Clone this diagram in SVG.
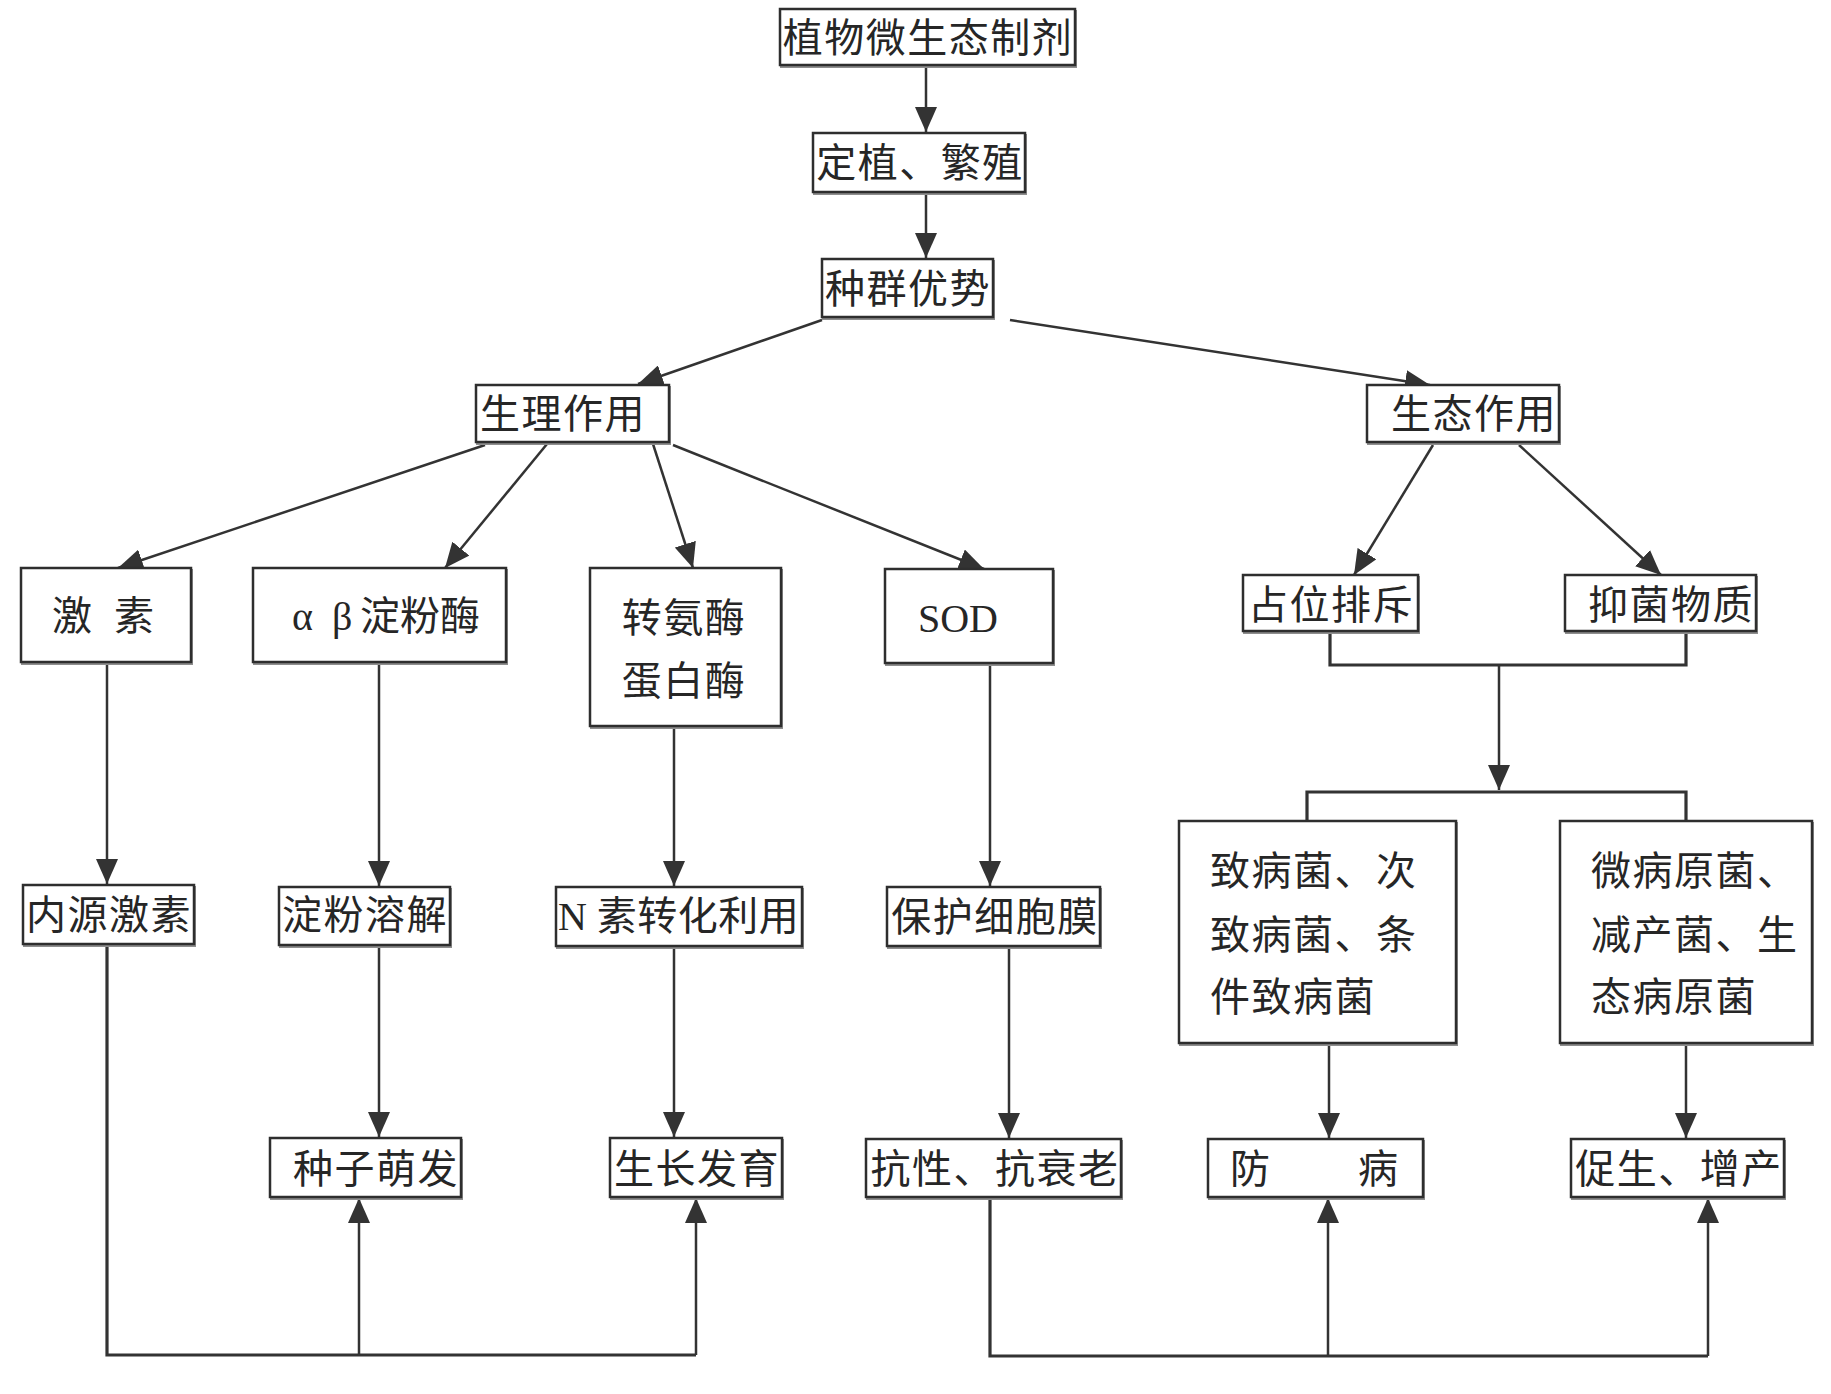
<svg xmlns="http://www.w3.org/2000/svg" width="1831" height="1394" viewBox="0 0 1831 1394">
<style>
.bg{fill:#ffffff}
.sh{fill:none;stroke:#8e8e8e;stroke-width:2}
.bx{fill:#ffffff;stroke:#2e2e2e;stroke-width:2.5}
.t{font-family:"Noto Sans CJK SC","Noto Sans CJK JP",sans-serif;font-size:40px;fill:#262626;letter-spacing:1.5px}
.m{text-anchor:middle}
.ser{font-family:"Liberation Serif",serif}
.ln{fill:none;stroke:#333333;stroke-width:2.5}
.lnb{fill:none;stroke:#333333;stroke-width:3.2}
.ar{marker-end:url(#ah)}
</style>
<defs>
<marker id="ah" viewBox="0 0 25 22" refX="25" refY="11" markerWidth="25" markerHeight="22" markerUnits="userSpaceOnUse" orient="auto">
<path d="M0,0 L25,11 L0,22 z" fill="#333333"/>
</marker>
</defs>
<rect class="bg" x="0" y="0" width="1831" height="1394"/>

<g id="connectors">
<path class="ln ar" d="M926,65 V132"/>
<path class="ln ar" d="M926,192 V258"/>
<path class="ln ar" d="M822,320 L638,384"/>
<path class="ln ar" d="M1010,320 L1430,385"/>
<path class="ln ar" d="M485,445 L118,568"/>
<path class="ln ar" d="M547,444 L445,568"/>
<path class="ln ar" d="M653,444 L693,568"/>
<path class="ln ar" d="M673,445 L984,569"/>
<path class="ln ar" d="M1433,445 L1354,575"/>
<path class="ln ar" d="M1519,445 L1661,575"/>
<path class="lnb" d="M1330,631 V665 H1686 V631"/>
<path class="ln ar" d="M1499,665 V790"/>
<path class="lnb" d="M1307,821 V792 H1686 V821"/>
<path class="ln ar" d="M107,662 V884"/>
<path class="ln ar" d="M379,662 V886"/>
<path class="ln ar" d="M674,726 V886"/>
<path class="ln ar" d="M990,663 V886"/>
<path class="ln ar" d="M379,945 V1137"/>
<path class="ln ar" d="M674,946 V1137"/>
<path class="ln ar" d="M1009,946 V1138"/>
<path class="ln ar" d="M1329,1043 V1138"/>
<path class="ln ar" d="M1686,1043 V1138"/>
<path class="lnb" d="M107,944 V1355 H696"/>
<path class="ln ar" d="M359,1355 V1198"/>
<path class="ln ar" d="M696,1355 V1198"/>
<path class="lnb" d="M990,1197 V1356 H1708"/>
<path class="ln ar" d="M1328,1356 V1198"/>
<path class="ln ar" d="M1708,1356 V1198"/>
</g>

<g id="n1"><rect class="sh" x="781" y="11" width="295" height="56"/><rect class="bx" x="780" y="9" width="295" height="56"/><text class="t m" x="928" y="52">植物微生态制剂</text></g>
<g id="n2"><rect class="sh" x="814" y="135" width="212" height="59"/><rect class="bx" x="813" y="133" width="212" height="59"/><text class="t m" x="920" y="177">定植、繁殖</text></g>
<g id="n3"><rect class="sh" x="823" y="261" width="171" height="58"/><rect class="bx" x="822" y="259" width="171" height="58"/><text class="t m" x="908" y="303">种群优势</text></g>
<g id="n4"><rect class="sh" x="477" y="387" width="193" height="57"/><rect class="bx" x="476" y="385" width="193" height="57"/><text class="t m" x="563" y="428">生理作用</text></g>
<g id="n5"><rect class="sh" x="1368" y="387" width="192" height="57"/><rect class="bx" x="1367" y="385" width="192" height="57"/><text class="t m" x="1474" y="428">生态作用</text></g>
<g id="n6"><rect class="sh" x="22" y="570" width="170" height="94"/><rect class="bx" x="21" y="568" width="170" height="94"/><text class="t" x="52" y="630" style="word-spacing:10px">激 素</text></g>
<g id="n7"><rect class="sh" x="254" y="570" width="253" height="94"/><rect class="bx" x="253" y="568" width="253" height="94"/><text class="t" x="292" y="630"><tspan class="ser">α </tspan><tspan class="ser" x="332">β</tspan><tspan x="360" style="letter-spacing:0">淀粉酶</tspan></text></g>
<g id="n8"><rect class="sh" x="591" y="570" width="191" height="158"/><rect class="bx" x="590" y="568" width="191" height="158"/><text class="t m" x="684" y="632">转氨酶</text><text class="t m" x="684" y="695">蛋白酶</text></g>
<g id="n9"><rect class="sh" x="886" y="571" width="168" height="94"/><rect class="bx" x="885" y="569" width="168" height="94"/><text class="t m ser" x="958" y="632" style="letter-spacing:0">SOD</text></g>
<g id="n10"><rect class="sh" x="1244" y="577" width="175" height="56"/><rect class="bx" x="1243" y="575" width="175" height="56"/><text class="t m" x="1331" y="619">占位排斥</text></g>
<g id="n11"><rect class="sh" x="1566" y="577" width="191" height="56"/><rect class="bx" x="1565" y="575" width="191" height="56"/><text class="t m" x="1671" y="619">抑菌物质</text></g>
<g id="n12"><rect class="sh" x="24" y="887" width="171" height="59"/><rect class="bx" x="23" y="885" width="171" height="59"/><text class="t m" x="109" y="929">内源激素</text></g>
<g id="n13"><rect class="sh" x="280" y="889" width="171" height="58"/><rect class="bx" x="279" y="887" width="171" height="58"/><text class="t m" x="365" y="929">淀粉溶解</text></g>
<g id="n14"><rect class="sh" x="557" y="889" width="246" height="59"/><rect class="bx" x="556" y="887" width="246" height="59"/><text class="t" x="558" y="930" style="letter-spacing:0.5px"><tspan class="ser">N</tspan> 素转化利用</text></g>
<g id="n15"><rect class="sh" x="888" y="889" width="213" height="59"/><rect class="bx" x="887" y="887" width="213" height="59"/><text class="t m" x="995" y="931">保护细胞膜</text></g>
<g id="n16"><rect class="sh" x="1180" y="823" width="277" height="222"/><rect class="bx" x="1179" y="821" width="277" height="222"/><text class="t" x="1210" y="885">致病菌、次</text><text class="t" x="1210" y="949">致病菌、条</text><text class="t" x="1210" y="1011">件致病菌</text></g>
<g id="n17"><rect class="sh" x="1561" y="823" width="252" height="222"/><rect class="bx" x="1560" y="821" width="252" height="222"/><text class="t" x="1591" y="885">微病原菌、</text><text class="t" x="1591" y="949">减产菌、生</text><text class="t" x="1591" y="1011">态病原菌</text></g>
<g id="n18"><rect class="sh" x="271" y="1140" width="191" height="59"/><rect class="bx" x="270" y="1138" width="191" height="59"/><text class="t m" x="376" y="1183">种子萌发</text></g>
<g id="n19"><rect class="sh" x="611" y="1140" width="172" height="59"/><rect class="bx" x="610" y="1138" width="172" height="59"/><text class="t m" x="697" y="1183">生长发育</text></g>
<g id="n20"><rect class="sh" x="867" y="1141" width="255" height="58"/><rect class="bx" x="866" y="1139" width="255" height="58"/><text class="t m" x="995" y="1183">抗性、抗衰老</text></g>
<g id="n21"><rect class="sh" x="1209" y="1141" width="215" height="58"/><rect class="bx" x="1208" y="1139" width="215" height="58"/><text class="t" x="1230" y="1183" style="word-spacing:76px">防 病</text></g>
<g id="n22"><rect class="sh" x="1572" y="1141" width="213" height="58"/><rect class="bx" x="1571" y="1139" width="213" height="58"/><text class="t m" x="1679" y="1183">促生、增产</text></g>
</svg>
